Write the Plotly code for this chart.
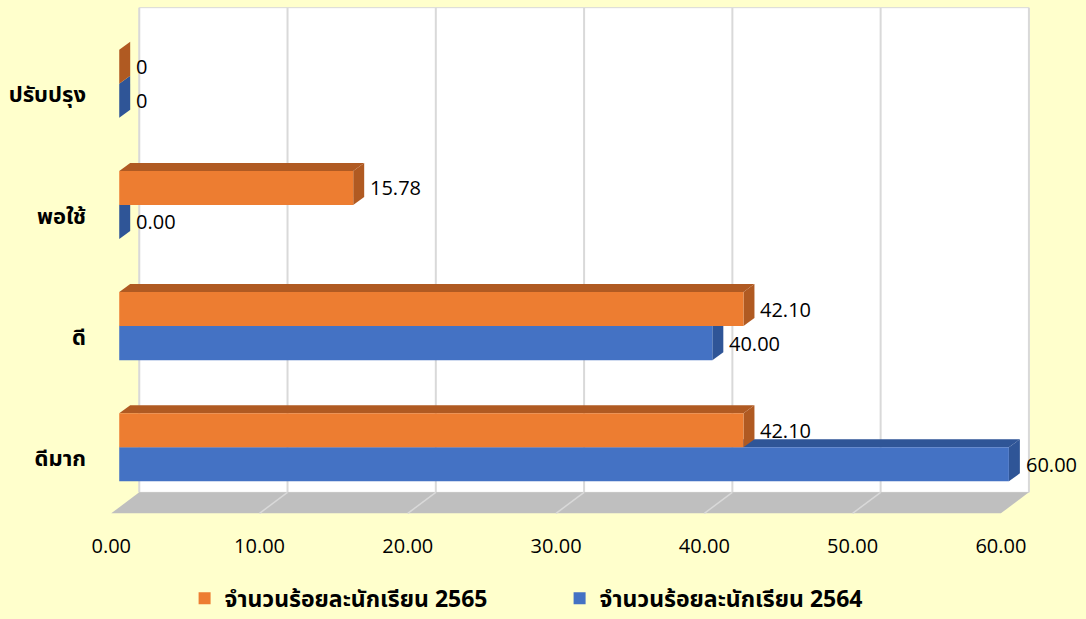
import plotly.graph_objects as go

# ---------------- data ----------------
categories = ["ดีมาก", "ดี", "พอใช้", "ปรับปรุง"]
series_names = ["จำนวนร้อยละนักเรียน 2565", "จำนวนร้อยละนักเรียน 2564"]
values_2565 = [42.10, 42.10, 15.78, 0]
values_2564 = [60.00, 40.00, 0.00, 0]
labels_2565 = ["42.10", "42.10", "15.78", "0"]
labels_2564 = ["60.00", "40.00", "0.00", "0"]
x_ticks = [0, 10, 20, 30, 40, 50, 60]

# ---------------- style ----------------
BG = "#FFFFCC"
ORANGE, ORANGE_DARK = "#ED7D31", "#B05A22"
BLUE, BLUE_DARK = "#4472C4", "#2F5597"
GRID = "#D9D9D9"
FLOOR = "#BFBFBF"
NUM_FONT = "Open Sans, Noto Sans, sans-serif"
THAI_FONT = "Noto Sans Thai, Noto Sans, sans-serif"

BAR_W = 0.281          # bar thickness (category units)
BAR_DX = 0.74          # 3D depth of bars (x data units)
BAR_DY = 0.066         # 3D depth of bars (y units)
WALL_DX = 1.35         # back-wall offset
FLOOR_DX = 0.54        # floor front offset (to the left)
Y_FLOOR_BACK = -0.372
Y_FLOOR_FRONT = -0.545
Y_TOP = 3.628
X_RANGE = [-1.5, 62.3]
Y_RANGE = [-0.6, 3.65]

pos = list(range(len(categories)))
wall_right = max(x_ticks) + WALL_DX

fig = go.Figure()

# bars (front faces)
fig.add_trace(go.Bar(
    y=pos, x=values_2564, orientation="h", name=series_names[1],
    marker=dict(color=BLUE, line=dict(width=0)),
    offset=-BAR_W, width=BAR_W, legendrank=2, hoverinfo="x+name",
))
fig.add_trace(go.Bar(
    y=pos, x=values_2565, orientation="h", name=series_names[0],
    marker=dict(color=ORANGE, line=dict(width=0)),
    offset=0, width=BAR_W, legendrank=1, hoverinfo="x+name",
))

shapes = []
# back wall
shapes.append(dict(type="rect", xref="x", yref="y", x0=WALL_DX, x1=wall_right,
                   y0=Y_FLOOR_BACK, y1=Y_TOP, fillcolor="white",
                   line=dict(color=GRID, width=1), layer="below"))
for t in x_ticks:
    shapes.append(dict(type="line", xref="x", yref="y", x0=t + WALL_DX, x1=t + WALL_DX,
                       y0=Y_FLOOR_BACK, y1=Y_TOP, line=dict(color=GRID, width=2),
                       layer="below"))
# floor
floor_path = (f"M {WALL_DX},{Y_FLOOR_BACK} L {wall_right},{Y_FLOOR_BACK} "
              f"L {max(x_ticks) - FLOOR_DX},{Y_FLOOR_FRONT} L {-FLOOR_DX},{Y_FLOOR_FRONT} Z")
shapes.append(dict(type="path", xref="x", yref="y", path=floor_path,
                   fillcolor=FLOOR, line=dict(width=0), layer="below"))
for t in x_ticks[1:-1]:
    shapes.append(dict(type="line", xref="x", yref="y", x0=t + WALL_DX, x1=t - FLOOR_DX,
                       y0=Y_FLOOR_BACK, y1=Y_FLOOR_FRONT, line=dict(color=GRID, width=1.5),
                       layer="below"))


def box_faces(v, y0, y1, dark):
    out = []
    top = (f"M 0,{y1} L {v},{y1} L {v + BAR_DX},{y1 + BAR_DY} "
           f"L {BAR_DX},{y1 + BAR_DY} Z")
    side = (f"M {v},{y0} L {v},{y1} L {v + BAR_DX},{y1 + BAR_DY} "
            f"L {v + BAR_DX},{y0 + BAR_DY} Z")
    for p in (top, side):
        out.append(dict(type="path", xref="x", yref="y", path=p, fillcolor=dark,
                        line=dict(width=0), layer="below"))
    return out


for i, p in enumerate(pos):
    shapes += box_faces(values_2564[i], p - BAR_W, p, BLUE_DARK)
    shapes += box_faces(values_2565[i], p, p + BAR_W, ORANGE_DARK)

annotations = []
for i, p in enumerate(pos):
    annotations.append(dict(x=values_2565[i] + BAR_DX, y=p + BAR_W / 2, xref="x", yref="y",
                            text=labels_2565[i], showarrow=False, xanchor="left",
                            xshift=4, font=dict(family=NUM_FONT, size=20, color="black")))
    annotations.append(dict(x=values_2564[i] + BAR_DX, y=p - BAR_W / 2, xref="x", yref="y",
                            text=labels_2564[i], showarrow=False, xanchor="left",
                            xshift=4, font=dict(family=NUM_FONT, size=20, color="black")))

fig.update_layout(
    width=1086, height=619,
    paper_bgcolor=BG, plot_bgcolor=BG,
    margin=dict(l=97, r=43, t=5, b=99, autoexpand=False),
    barmode="overlay",
    shapes=shapes,
    annotations=annotations,
    showlegend=True,
    legend=dict(orientation="h", x=0.489, xanchor="center", y=-0.152, yanchor="middle",
                font=dict(family=THAI_FONT, size=23, color="black", weight="bold"),
                itemwidth=30, entrywidth=330, entrywidthmode="pixels",
                bgcolor="rgba(0,0,0,0)", itemclick=False),
    xaxis=dict(range=X_RANGE, tickvals=x_ticks, ticktext=[f"{t:.2f}" for t in x_ticks],
               showgrid=False, zeroline=False, showline=False, ticks="",
               ticklabelshift=-8, ticklabelstandoff=12,
               tickfont=dict(family=NUM_FONT, size=20, color="black")),
    yaxis=dict(range=Y_RANGE, tickvals=pos, ticktext=categories,
               showgrid=False, zeroline=False, showline=False, ticks="",
               ticklabelshift=11, ticklabelstandoff=10,
               tickfont=dict(family=THAI_FONT, size=22, color="black", weight="bold")),
)

fig.write_html("out.html", config={"displayModeBar": False},
               post_script="document.body.style.margin='0';")
